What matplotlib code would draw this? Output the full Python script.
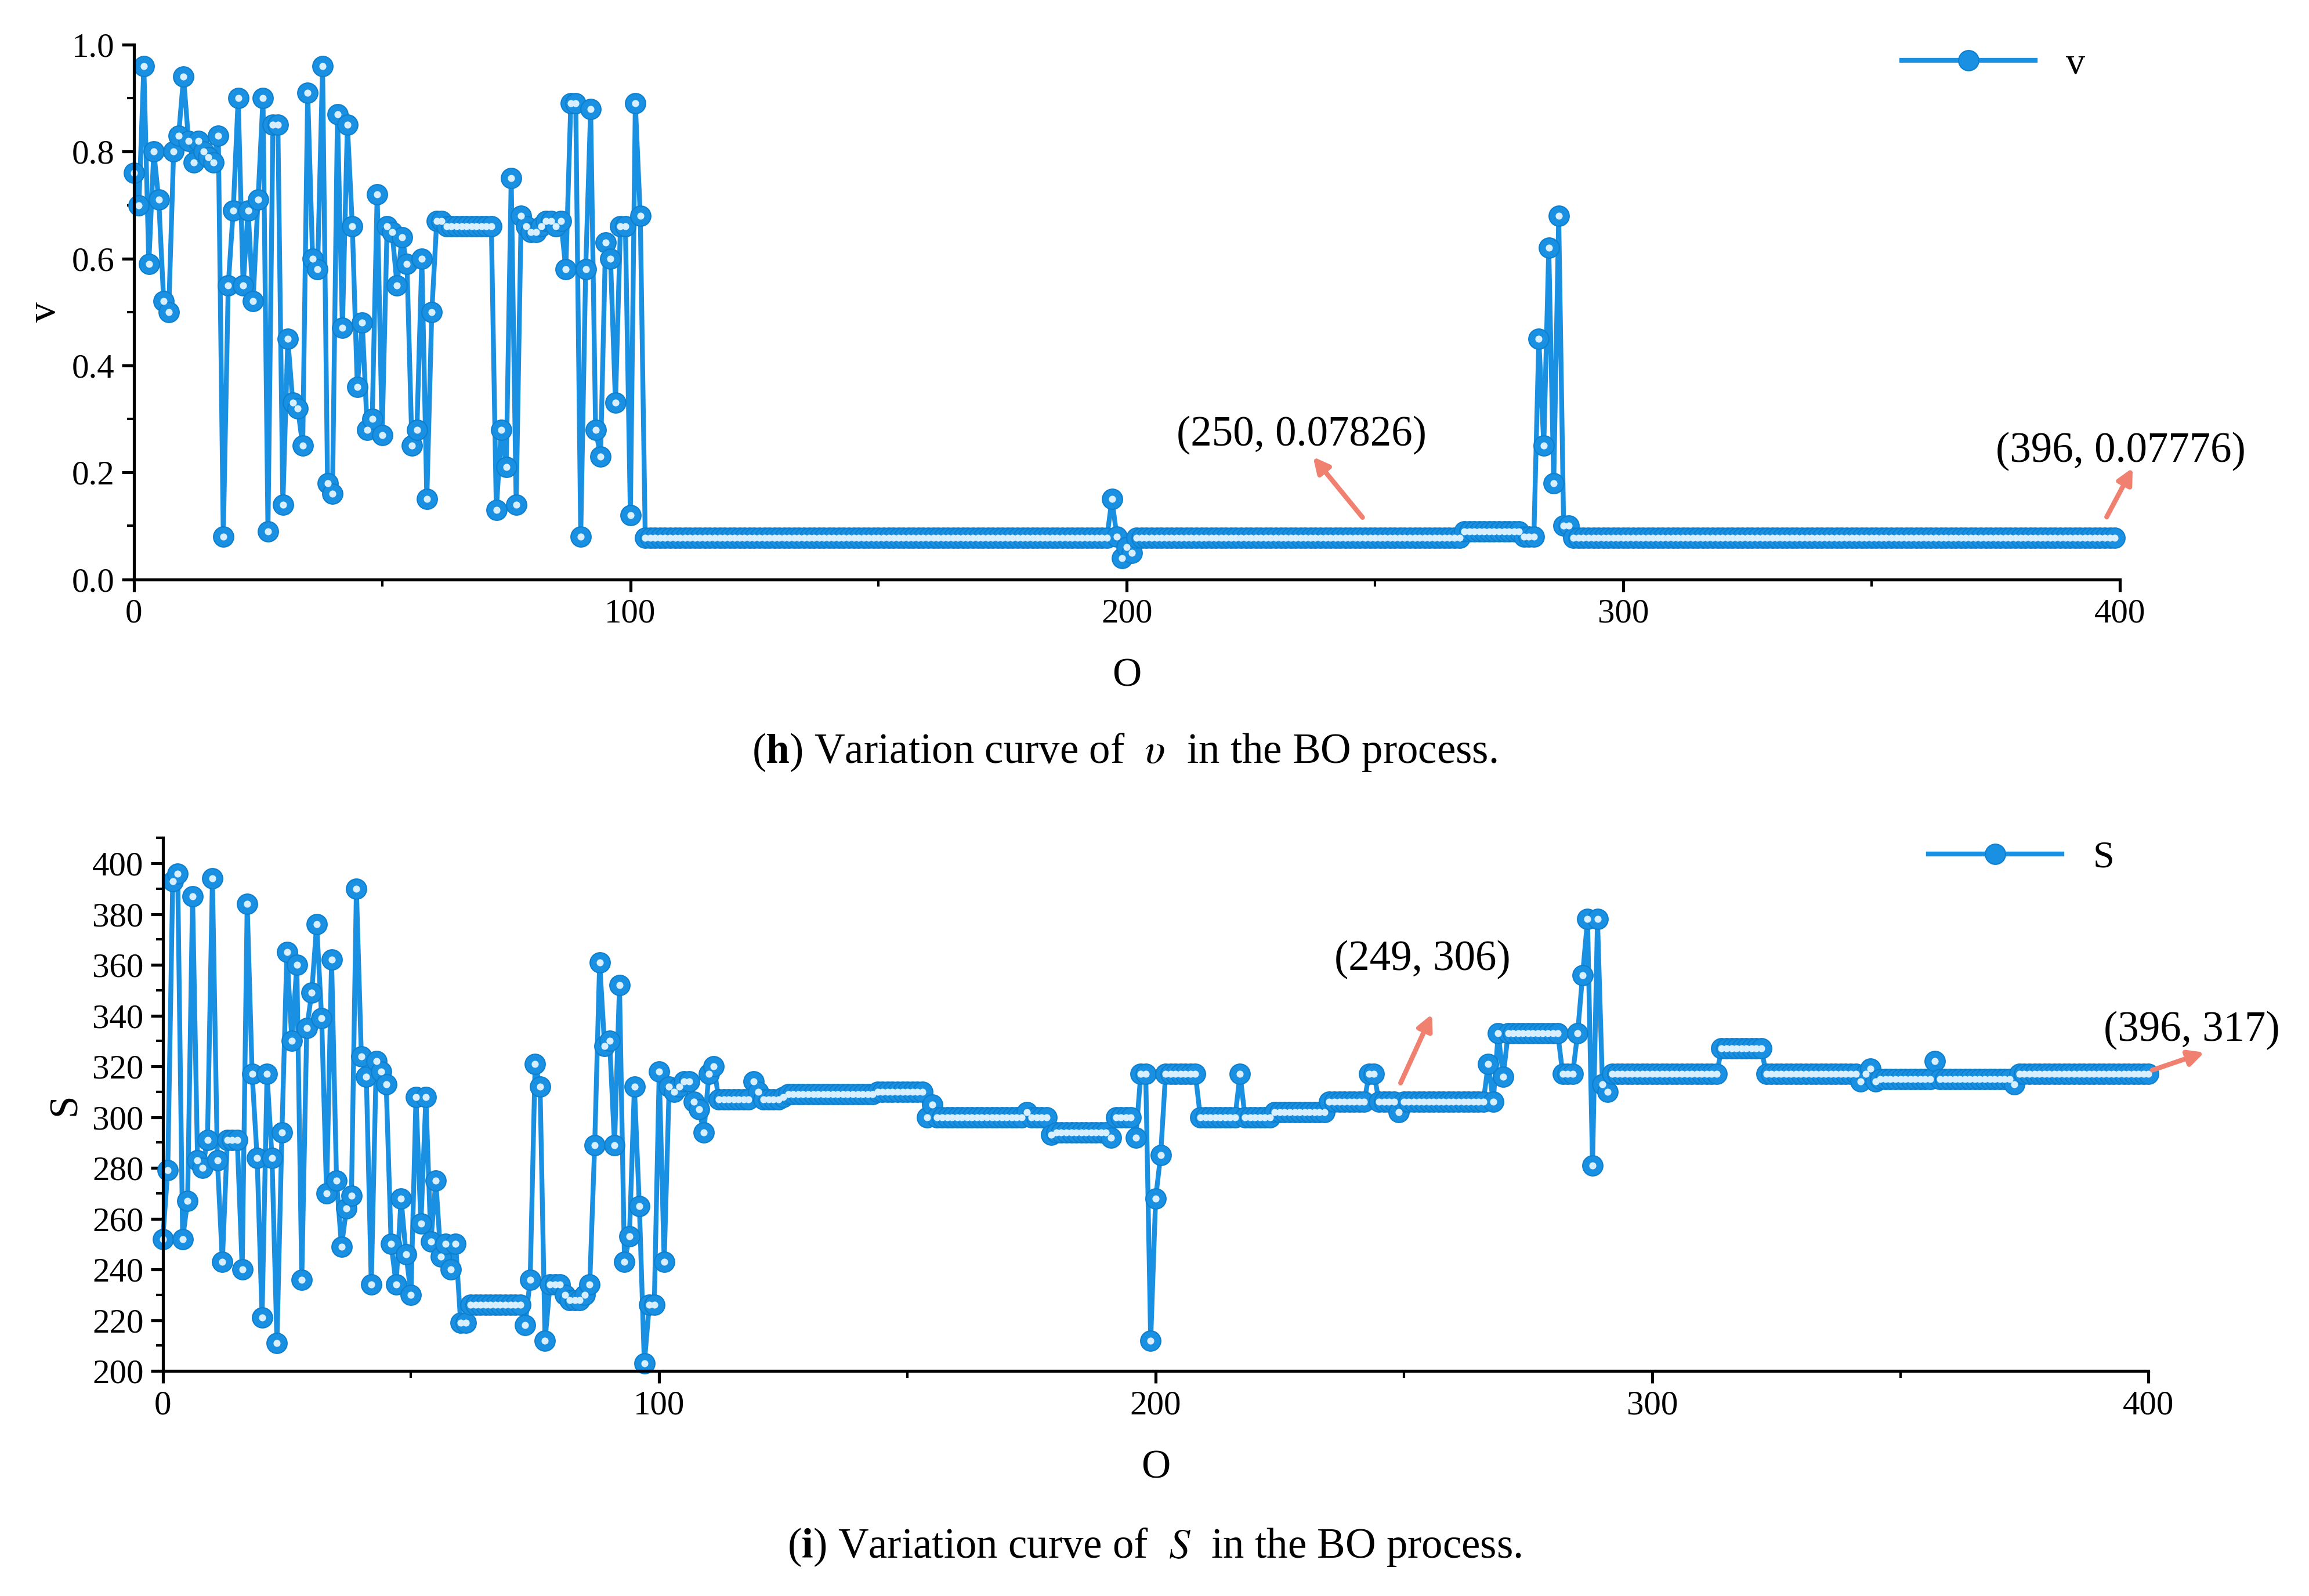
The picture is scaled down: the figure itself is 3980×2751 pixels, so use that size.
import numpy as np
import matplotlib.pyplot as plt
from matplotlib.ticker import MultipleLocator

v_head = [0.76,0.70,0.96,0.59,0.80,0.71,0.52,0.50,0.80,0.83,0.94,0.82,0.78,0.82,0.80,0.79,0.78,0.83,0.08,0.55,
          0.69,0.90,0.55,0.69,0.52,0.71,0.90,0.09,0.85,0.85,0.14,0.45,0.33,0.32,0.25,0.91,0.60,0.58,0.96,0.18,
          0.16,0.87,0.47,0.85,0.66,0.36,0.48,0.28,0.30,0.72,0.27,0.66,0.65,0.55,0.64,0.59,0.25,0.28,0.60,0.15,
          0.50,0.67,0.67,0.66,0.66,0.66,0.66,0.66,0.66,0.66,0.66,0.66,0.66,0.13,0.28,0.21,0.75,0.14,0.68,0.66,
          0.65,0.65,0.66,0.67,0.67,0.66,0.67,0.58,0.89,0.89,0.08,0.58,0.88,0.28,0.23,0.63,0.60,0.33,0.66,0.66,
          0.12,0.89,0.68]
v_mid1 = [0.078]*94
v_spike1 = [0.15,0.08,0.04,0.06,0.05]
v_mid2 = [0.078]*66
v_mid3 = [0.09]*12 + [0.08]*3
v_spike2 = [0.45,0.25,0.62,0.18,0.68,0.10,0.10]
v_tail = [0.078]*(400 - 103 - 94 - 5 - 66 - 15 - 7)
v = v_head + v_mid1 + v_spike1 + v_mid2 + v_mid3 + v_spike2 + v_tail

s_head = [252,279,393,396,252,267,387,283,280,291,394,283,243,291,291,291,240,384,317,284,
          221,317,284,211,294,365,330,360,236,335,349,376,339,270,362,275,249,264,269,390,
          324,316,234,322,318,313,250,234,268,246,230,308,258,308,251,275,245,250,240,250,
          219,219] + [226]*11 + [218,236,321,312,212,234,234,234,230,228,228,228,230,234,289,
          361,328,330,289,352,243,253,312,265,203,226,226,318,243,312,310,312,314,314,306,
          303,294,317,320,307,307,307,307,307,307,307,314,310,307,307,307,307,308,309,309]
s_mid = ([309]*16 + [310]*10 + [300,305] + [300]*18 + [302] + [300]*4 + [293] + [294]*11 +
         [292] + [300]*4 + [292,317,317,212,268,285] + [317]*7 + [300]*8 + [317] + [300]*6 +
         [302]*11 + [306]*8 + [317,317] + [306]*4 + [302] + [306]*17 + [321,306,333,316] +
         [333]*11 + [317,317,317,333,356,378,281,378,313,310] + [317]*22 + [327]*9 + [317]*19 +
         [314,317,319,314] + [315]*11 + [322] + [315]*15 + [313])
s = s_head + s_mid
s = s + [317]*(401 - len(s))

x_v = np.arange(len(v))
x_s = np.arange(len(s))

col = '#1a90e2'
plt.rcParams['font.family'] = 'Liberation Serif'
plt.rcParams['mathtext.fontset'] = 'stix'
fig = plt.figure(figsize=(15.92, 11.004), dpi=250)

def style(ax, ymin, ymax, major, minor, lbl):
    for sp in ['top', 'right']:
        ax.spines[sp].set_visible(False)
    for sp in ['left', 'bottom']:
        ax.spines[sp].set_linewidth(1.5)
    ax.set_xlim(0, 400)
    ax.set_ylim(ymin, ymax)
    ax.xaxis.set_major_locator(MultipleLocator(100))
    ax.xaxis.set_minor_locator(MultipleLocator(50))
    ax.yaxis.set_major_locator(MultipleLocator(major))
    ax.yaxis.set_minor_locator(MultipleLocator(minor))
    ax.tick_params(which='major', direction='out', length=6, width=1.5, labelsize=17)
    ax.tick_params(which='minor', direction='out', length=3.5, width=1.2)
    ax.set_xlabel('O', fontsize=20, labelpad=14)
    ax.set_ylabel(lbl, fontsize=20)

def draw(ax, x, y, lbl):
    ax.plot(x, y, '-', color=col, lw=2.4, marker='o', ms=10, mfc=col, mec='#0d7fcf', mew=0.6, label=lbl, clip_on=False)
    ax.plot(x, y, 'o', color='#d8efff', ms=3.5, mew=0, clip_on=False)
    ax.legend(loc='upper right', frameon=False, fontsize=19, handlelength=3.5, bbox_to_anchor=(1.0, 1.06))

arr = dict(arrowstyle='-|>', color='#f08070', lw=2.4, mutation_scale=16)

ax1 = fig.add_axes([0.058, 0.637, 0.860, 0.335])
draw(ax1, x_v, v, 'v')
style(ax1, 0, 1.0, 0.2, 0.1, 'v')
ax1.yaxis.set_major_formatter(plt.FuncFormatter(lambda t, p: f'{t:.1f}'))
ax1.annotate('', xy=(237, 0.235), xytext=(248, 0.11), arrowprops=arr, annotation_clip=False)
ax1.text(210, 0.25, '(250, 0.07826)', fontsize=21)
ax1.annotate('', xy=(403, 0.215), xytext=(397, 0.11), arrowprops=arr, annotation_clip=False)
ax1.text(375, 0.22, '(396, 0.07776)', fontsize=21)

ax2 = fig.add_axes([0.0705, 0.141, 0.860, 0.334])
draw(ax2, x_s, s, 'S')
style(ax2, 200, 410, 20, 10, 'S')
ax2.annotate('', xy=(256, 342), xytext=(249, 312), arrowprops=arr, annotation_clip=False)
ax2.text(236, 358, '(249, 306)', fontsize=21)
ax2.annotate('', xy=(412, 326), xytext=(400, 318), arrowprops=arr, annotation_clip=False)
ax2.text(391, 330, '(396, 317)', fontsize=21)

fig.text(0.487, 0.522, r'($\mathbf{h}$) Variation curve of  $\it{\upsilon}$  in the BO process.', ha='center', fontsize=21)
fig.text(0.5, 0.024, r'($\mathbf{i}$) Variation curve of  $\it{S}$  in the BO process.', ha='center', fontsize=21)

fig.savefig('out.png', dpi=250)
